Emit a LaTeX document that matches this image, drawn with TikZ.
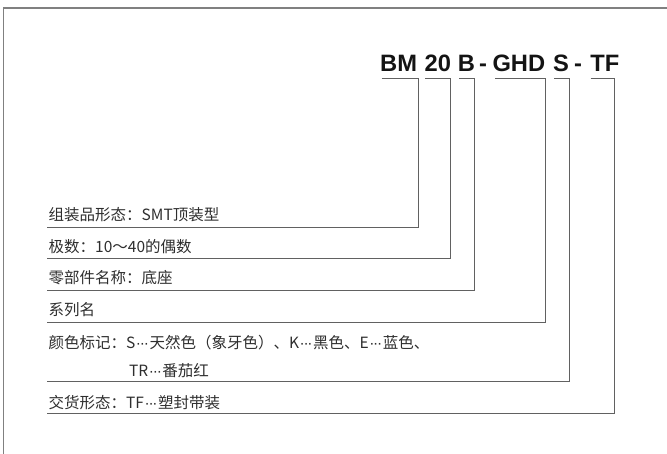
\documentclass[tikz,border=0pt]{standalone}
\usepackage{fontspec}
\setmainfont{Liberation Sans}
\newfontfamily\cjk{Noto Sans CJK SC}
\newcommand{\mdots}{{\rmfamily\kern0.5pt·\kern-1.2pt·\kern-1.2pt·\kern0.5pt}}
\begin{document}
\begin{tikzpicture}[x=1pt,y=-1pt,
  frame/.style={draw=black!50, line width=1.5pt},
  conn/.style={draw=black!62, line width=1pt},
  tok/.style={anchor=base west, inner sep=0pt, font=\fontsize{23.7}{28}\selectfont\bfseries, text=black!92},
  lbl/.style={anchor=base west, inner sep=0pt, font=\cjk\fontsize{15.5}{18}\selectfont, text=black!82}]
\useasboundingbox (0,0) rectangle (667,454);
% frame (open on right and bottom)
\draw[frame] (3.5,454) -- (3.5,8) -- (667,8);
% title tokens
\node[tok] (bm)  at (380,71.7) {BM};
\node[tok] (n20) at (424.5,71.7) {20};
\node[tok] (nb)  at (457.6,71.7) {B};
\node[tok] (h1)  at (479,71.7) {-};
\node[tok] (ghd) at (492.3,71.7) {GHD};
\node[tok] (ns)  at (553,71.7) {S};
\node[tok] (h2)  at (574,71.7) {-};
\node[tok] (tf)  at (590.2,71.7) {TF};
% labels
\node[lbl] (l1) at (48.5,221) {组装品形态：SMT顶装型};
\node[lbl] (l2) at (48.5,252.5) {极数：10～40的偶数};
\node[lbl] (l3) at (48.5,284) {零部件名称：底座};
\node[lbl] (l4) at (48.5,316) {系列名};
\node[lbl] (l5) at (48.5,348.5) {颜色标记：S\mdots 天然色（象牙色）、K\mdots 黑色、E\mdots 蓝色、};
\node[lbl] (l5b) at (129,377) {TR\mdots 番茄红};
\node[lbl] (l6) at (48.5,408.5) {交货形态：TF\mdots 塑封带装};
% bar end coordinates
\coordinate (bmL) at (381.7,78.3);  \coordinate (bmR) at (418.3,78.3);
\coordinate (aL)  at (425,78.3);    \coordinate (aR)  at (450.7,78.3);
\coordinate (bL)  at (459.3,78.3);  \coordinate (bR)  at (474.7,78.3);
\coordinate (gL)  at (495,78.3);    \coordinate (gR)  at (545.7,78.3);
\coordinate (sL)  at (554,78.3);    \coordinate (sR)  at (569.3,78.3);
\coordinate (tL)  at (590.7,78.3);  \coordinate (tR)  at (614,78.3);
% rule start coordinates
\coordinate (r1) at (46.7,227.8);
\coordinate (r2) at (46.7,259);
\coordinate (r3) at (46.7,290.7);
\coordinate (r4) at (46.7,323);
\coordinate (r5) at (46.7,381.7);
\coordinate (r6) at (46.7,413.3);
% connectors
\draw[conn] (bmL) -- (bmR) |- (r1);
\draw[conn] (aL) -- (aR) |- (r2);
\draw[conn] (bL) -- (bR) |- (r3);
\draw[conn] (gL) -- (gR) |- (r4);
\draw[conn] (sL) -- (sR) |- (r5);
\draw[conn] (tL) -- (tR) |- (r6);
\end{tikzpicture}
\end{document}
